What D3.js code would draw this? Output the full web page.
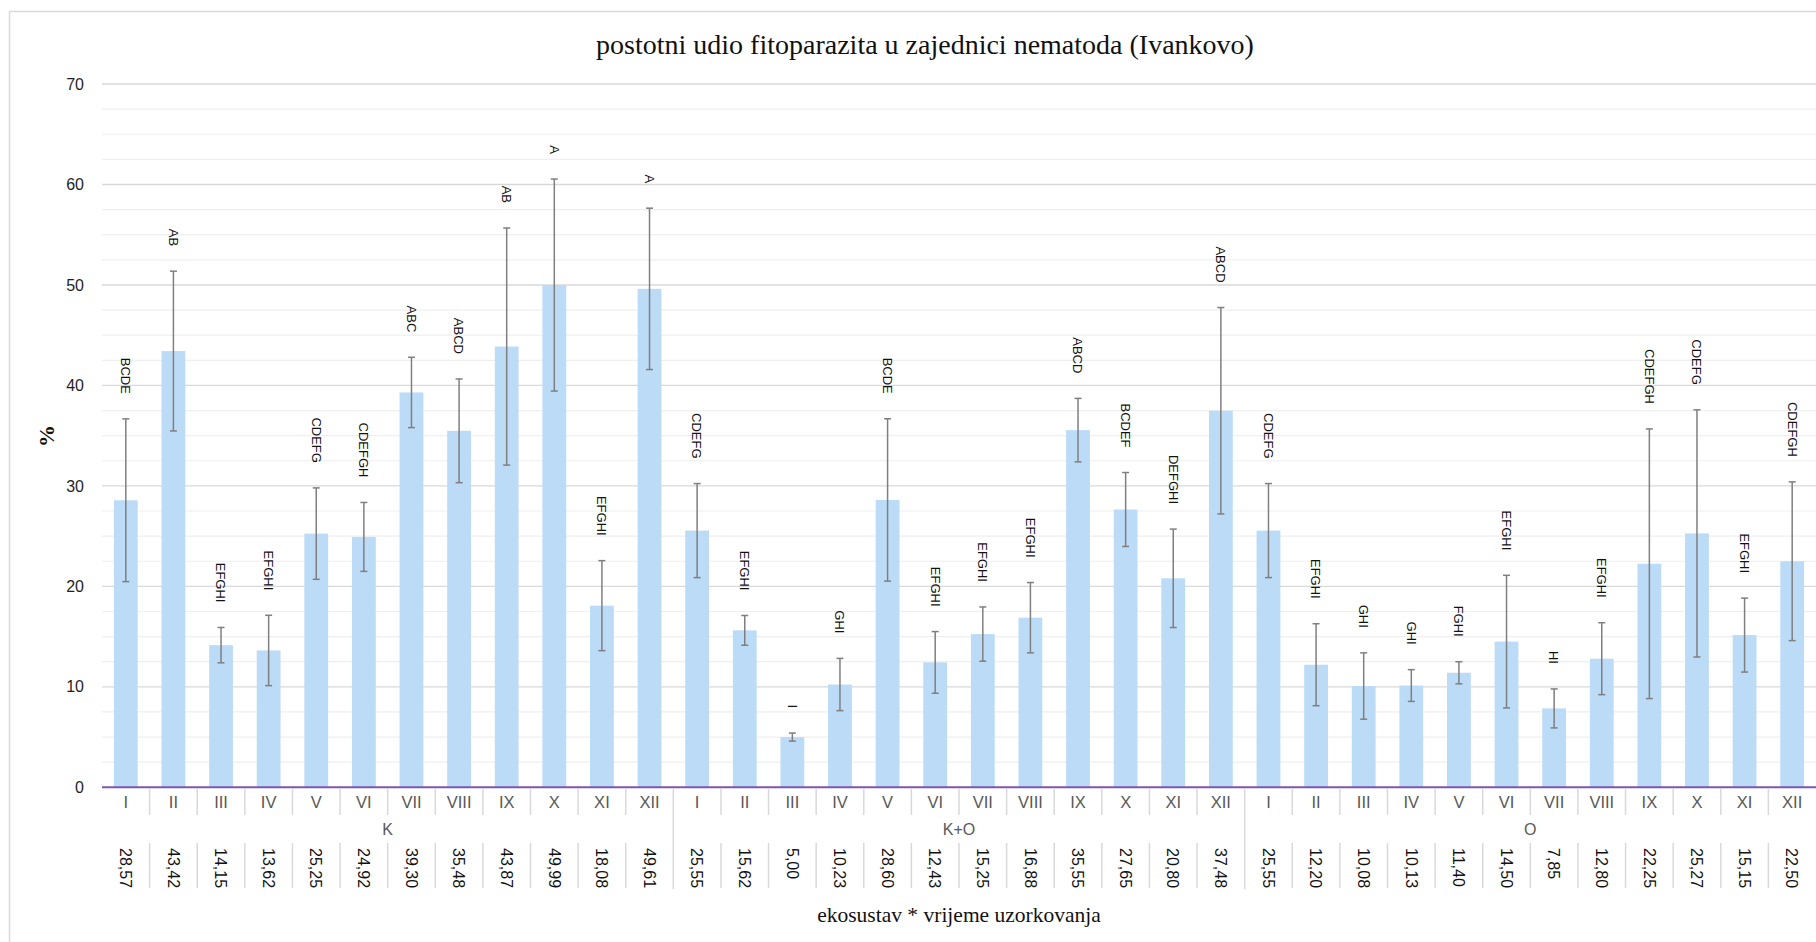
<!DOCTYPE html>
<html>
<head>
<meta charset="utf-8">
<script src="https://cdn.jsdelivr.net/npm/d3@7"></script>
<style>
  html, body { margin: 0; padding: 0; background: #fff; }
  svg { display: block; }
</style>
</head>
<body>
<svg id="chart" width="1816" height="942"></svg>
<script>
// ---- data ----
const groups = ["K", "K+O", "O"];
const months = ["I", "II", "III", "IV", "V", "VI", "VII", "VIII", "IX", "X", "XI", "XII"];
const meansK  = [28.57, 43.42, 14.15, 13.62, 25.25, 24.92, 39.30, 35.48, 43.87, 49.99, 18.08, 49.61];
const meansKO = [25.55, 15.62, 5.00, 10.23, 28.60, 12.43, 15.25, 16.88, 35.55, 27.65, 20.80, 37.48];
const meansO  = [25.55, 12.20, 10.08, 10.13, 11.40, 14.50, 7.85, 12.80, 22.25, 25.27, 15.15, 22.50];
const errK  = [8.1, 7.95, 1.76, 3.5, 4.55, 3.43, 3.5, 5.16, 11.8, 10.55, 4.48, 8.03];
const errKO = [4.68, 1.48, 0.4, 2.6, 8.08, 3.07, 2.7, 3.5, 3.16, 3.68, 4.9, 10.27];
const errO  = [4.68, 4.08, 3.3, 1.58, 1.1, 6.6, 1.94, 3.58, 13.42, 12.3, 3.68, 7.9];
const lettersK  = ["BCDE", "AB", "EFGHI", "EFGHI", "CDEFG", "CDEFGH", "ABC", "ABCD", "AB", "A", "EFGHI", "A"];
const lettersKO = ["CDEFG", "EFGHI", "I", "GHI", "BCDE", "EFGHI", "EFGHI", "EFGHI", "ABCD", "BCDEF", "DEFGHI", "ABCD"];
const lettersO  = ["CDEFG", "EFGHI", "GHI", "GHI", "FGHI", "EFGHI", "HI", "EFGHI", "CDEFGH", "CDEFG", "EFGHI", "CDEFGH"];
const yMajorTicks = [0, 10, 20, 30, 40, 50, 60, 70];
const yMinorStep = 2.5;
const titleText = "postotni udio fitoparazita u zajednici nematoda (Ivankovo)";
const xTitleText = "ekosustav * vrijeme uzorkovanja";
const yTitleText = "%";

const allMeans = [meansK, meansKO, meansO];
const allErr = [errK, errKO, errO];
const allLetters = [lettersK, lettersKO, lettersO];
const rows = [];
groups.forEach((g, gi) => months.forEach((m, mi) => rows.push({
  id: g + "|" + m, group: g, month: m,
  mean: allMeans[gi][mi], err: allErr[gi][mi], letter: allLetters[gi][mi]
})));
const fmt = v => v.toFixed(2).replace(".", ",");

// ---- layout ----
const svg = d3.select("#chart");
const plotL = 102, plotR = 1816, plotT = 84, plotB = 787.3;
const sansFont = "'Liberation Sans', Arial, sans-serif";
const serifFont = "'Liberation Serif', 'Times New Roman', serif";

// chart area border
svg.append("rect").attr("x", 9.5).attr("y", 11.5).attr("width", 1840).attr("height", 960)
  .attr("fill", "none").attr("stroke", "#d9d9d9").attr("stroke-width", 1.5);

const x = d3.scaleBand().domain(rows.map(d => d.id)).range([plotL, plotR]).paddingInner(0.5).paddingOuter(0.25);
const xBand = d3.scaleBand().domain(rows.map(d => d.id)).range([plotL, plotR]).padding(0);
const y = d3.scaleLinear().domain([0, 70]).range([plotB, plotT]);

// minor gridlines
const minorTicks = d3.range(0, 70.001, yMinorStep).filter(v => !yMajorTicks.includes(v));
svg.append("g").selectAll("line").data(minorTicks).join("line")
  .attr("x1", plotL).attr("x2", plotR).attr("y1", d => y(d)).attr("y2", d => y(d))
  .attr("stroke", "#efefef").attr("stroke-width", 1.2);
// major gridlines
svg.append("g").selectAll("line").data(yMajorTicks.filter(v => v > 0)).join("line")
  .attr("x1", plotL).attr("x2", plotR).attr("y1", d => y(d)).attr("y2", d => y(d))
  .attr("stroke", "#d9d9d9").attr("stroke-width", 1.4);

// y axis labels
const yAxis = svg.append("g").attr("transform", `translate(${plotL},0)`)
  .call(d3.axisLeft(y).tickValues(yMajorTicks).tickSize(0).tickPadding(18));
yAxis.select(".domain").remove();
yAxis.selectAll("text").attr("font-family", sansFont).attr("font-size", 16).attr("fill", "#1f1f1f");

// bars
svg.append("g").selectAll("rect").data(rows).join("rect")
  .attr("x", d => x(d.id)).attr("width", x.bandwidth())
  .attr("y", d => y(d.mean)).attr("height", d => y(0) - y(d.mean))
  .attr("fill", "#bcdbf7");

// error bars
const eb = svg.append("g").attr("stroke", "#7f7f7f").attr("stroke-width", 1.5);
const cx = d => x(d.id) + x.bandwidth() / 2;
eb.selectAll("line.v").data(rows).join("line").attr("class", "v")
  .attr("x1", cx).attr("x2", cx).attr("y1", d => y(d.mean + d.err)).attr("y2", d => y(d.mean - d.err));
eb.selectAll("line.t").data(rows).join("line").attr("class", "t")
  .attr("x1", d => cx(d) - 3.5).attr("x2", d => cx(d) + 3.5).attr("y1", d => y(d.mean + d.err)).attr("y2", d => y(d.mean + d.err));
eb.selectAll("line.b").data(rows).join("line").attr("class", "b")
  .attr("x1", d => cx(d) - 3.5).attr("x2", d => cx(d) + 3.5).attr("y1", d => y(d.mean - d.err)).attr("y2", d => y(d.mean - d.err));

// significance letters (rotated)
svg.append("g").selectAll("text").data(rows).join("text")
  .attr("transform", d => `translate(${cx(d)},${y(d.mean + d.err) - 25}) rotate(90)`)
  .attr("text-anchor", "end").attr("dy", "0.36em")
  .attr("font-family", sansFont).attr("font-size", 13).attr("fill", "#111")
  .text(d => d.letter);

// x axis line
svg.append("line").attr("x1", plotL).attr("x2", plotR).attr("y1", plotB).attr("y2", plotB)
  .attr("stroke", "#7c57b0").attr("stroke-width", 2);

// month labels via axis
const xAxis = svg.append("g").attr("transform", `translate(0,${plotB})`)
  .call(d3.axisBottom(xBand).tickSize(0).tickPadding(0).tickFormat(id => id.split("|")[1]));
xAxis.select(".domain").remove();
xAxis.selectAll("text").attr("y", 20.5).attr("dy", null)
  .attr("font-family", sansFont).attr("font-size", 16.5).attr("fill", "#595959");

// separators level 1 (between months)
const sep = svg.append("g").attr("stroke", "#d9d9d9").attr("stroke-width", 1.5);
const bounds = rows.slice(1).map(d => ({ x: xBand(d.id), groupStart: d.month === months[0] }));
sep.selectAll("line.l1").data(bounds).join("line").attr("class", "l1")
  .attr("x1", d => d.x).attr("x2", d => d.x).attr("y1", plotB + 1).attr("y2", d => d.groupStart ? 889 : 815);
sep.selectAll("line.l3").data(bounds.filter(d => !d.groupStart)).join("line").attr("class", "l3")
  .attr("x1", d => d.x).attr("x2", d => d.x).attr("y1", 843).attr("y2", 888);

// group labels
const groupCenter = g => {
  const ids = rows.filter(d => d.group === g).map(d => d.id);
  return (xBand(ids[0]) + xBand(ids[ids.length - 1]) + xBand.bandwidth()) / 2;
};
svg.append("g").selectAll("text").data(groups).join("text")
  .attr("x", groupCenter).attr("y", 834.5).attr("text-anchor", "middle")
  .attr("font-family", sansFont).attr("font-size", 16).attr("fill", "#595959")
  .text(d => d);

// value labels (rotated)
svg.append("g").selectAll("text").data(rows).join("text")
  .attr("transform", d => `translate(${xBand(d.id) + xBand.bandwidth() / 2},848) rotate(90)`)
  .attr("text-anchor", "start").attr("dy", "0.36em")
  .attr("font-family", sansFont).attr("font-size", 16).attr("fill", "#111")
  .text(d => fmt(d.mean));

// titles
svg.append("text").attr("x", 925).attr("y", 54).attr("text-anchor", "middle")
  .attr("font-family", serifFont).attr("font-size", 28).attr("fill", "#111").text(titleText);
svg.append("text").attr("x", (plotL + plotR) / 2).attr("y", 922).attr("text-anchor", "middle")
  .attr("font-family", serifFont).attr("font-size", 21.5).attr("fill", "#111").text(xTitleText);
svg.append("text").attr("transform", "translate(54,436) rotate(-90)").attr("text-anchor", "middle")
  .attr("font-family", serifFont).attr("font-size", 22).attr("font-weight", "bold").attr("fill", "#111").text(yTitleText);
</script>
</body>
</html>
